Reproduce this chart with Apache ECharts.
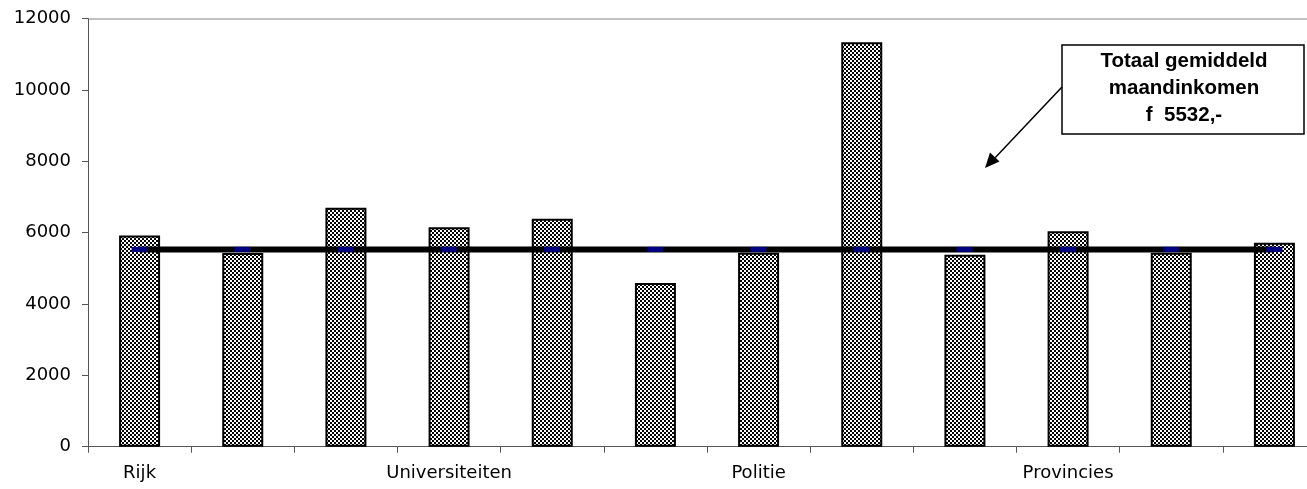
<!DOCTYPE html>
<html>
<head>
<meta charset="utf-8">
<script src="https://cdn.jsdelivr.net/npm/echarts@6/dist/echarts.min.js"></script>
<style>
  html, body { margin: 0; padding: 0; background: #fff; overflow: hidden; }
  /* iets breder dan het venster: de laatste categorie loopt buiten beeld door */
  #chart { width: 1326px; height: 489px; }
</style>
</head>
<body>
<div id="chart"></div>
<script>
// categorieën (alleen elke derde heeft een label)
const categories = ['Rijk', '', '', 'Universiteiten', '', '', 'Politie', '', '', 'Provincies', '', ''];
// gemiddeld maandinkomen per sector
const incomeValues = [5920, 5430, 6700, 6150, 6390, 4590, 5440, 11340, 5380, 6040, 5440, 5720];
// totaal gemiddelde
const totalAverage = 5532;
const averageValues = categories.map(() => totalAverage);
const yTicks = [0, 2000, 4000, 6000, 8000, 10000, 12000];

// geblokt patroon voor de staven
function makePattern() {
    const c = document.createElement('canvas');
    c.width = 4;
    c.height = 4;
    const ctx = c.getContext('2d');
    ctx.fillStyle = '#fff';
    ctx.fillRect(0, 0, 4, 4);
    ctx.fillStyle = '#000';
    ctx.fillRect(0, 0, 2, 2);
    ctx.fillRect(2, 2, 2, 2);
    return c;
}

const chart = echarts.init(document.getElementById('chart'));

// alleen de bovenste rasterlijn is zichtbaar
const splitColors = yTicks.map((v, i) => i === yTicks.length - 1 ? '#c0c0c0' : 'rgba(0,0,0,0)');

const option = {
    animation: false,
    grid: { left: 88, right: 0, top: 18.7, height: 428, containLabel: false },
    xAxis: {
        type: 'category',
        data: categories,
        axisLine: { lineStyle: { color: '#555', width: 1 } },
        axisTick: { show: true, length: 6, interval: 0, lineStyle: { color: '#555' } },
        axisLabel: {
            interval: 0,
            margin: 18,
            color: '#000',
            fontFamily: 'DejaVu Sans',
            fontSize: 18
        }
    },
    yAxis: {
        type: 'value',
        min: yTicks[0],
        max: yTicks[yTicks.length - 1],
        interval: 2000,
        axisLine: { show: true, lineStyle: { color: '#555', width: 1 } },
        axisTick: { show: true, length: 6, lineStyle: { color: '#555' } },
        axisLabel: {
            margin: 17,
            color: '#000',
            fontFamily: 'DejaVu Sans',
            fontSize: 18,
            formatter: (v) => String(v)
        },
        splitLine: { show: true, lineStyle: { color: splitColors, width: 2 } }
    },
    series: [
        {
            type: 'bar',
            data: incomeValues,
            barWidth: 41,
            itemStyle: {
                color: { image: makePattern(), repeat: 'repeat' },
                borderColor: '#000',
                borderWidth: 2
            },
            z: 2
        },
        {
            type: 'line',
            data: averageValues,
            symbol: 'rect',
            symbolSize: [16, 5],
            showSymbol: true,
            lineStyle: { color: '#000', width: 6 },
            itemStyle: { color: '#000080' },
            z: 3
        }
    ],
    graphic: [
        {
            type: 'rect',
            shape: { x: 1062, y: 45, width: 242, height: 89 },
            style: { fill: '#fff', stroke: '#000', lineWidth: 1.5 },
            z: 10
        },
        {
            type: 'text',
            x: 1184,
            y: 88,
            style: {
                text: 'Totaal gemiddeld\nmaandinkomen\nf  5532,-',
                fill: '#000',
                font: 'bold 20.5px "Liberation Sans", Arial, sans-serif',
                lineHeight: 27,
                align: 'center',
                verticalAlign: 'middle'
            },
            z: 11
        },
        {
            type: 'line',
            shape: { x1: 1062, y1: 87, x2: 993, y2: 160 },
            style: { stroke: '#000', lineWidth: 1.5 },
            z: 10
        },
        {
            type: 'polygon',
            shape: { points: [[985, 168], [999.5, 161.5], [990, 152.5]] },
            style: { fill: '#000' },
            z: 10
        }
    ]
};

chart.setOption(option);
</script>
</body>
</html>
